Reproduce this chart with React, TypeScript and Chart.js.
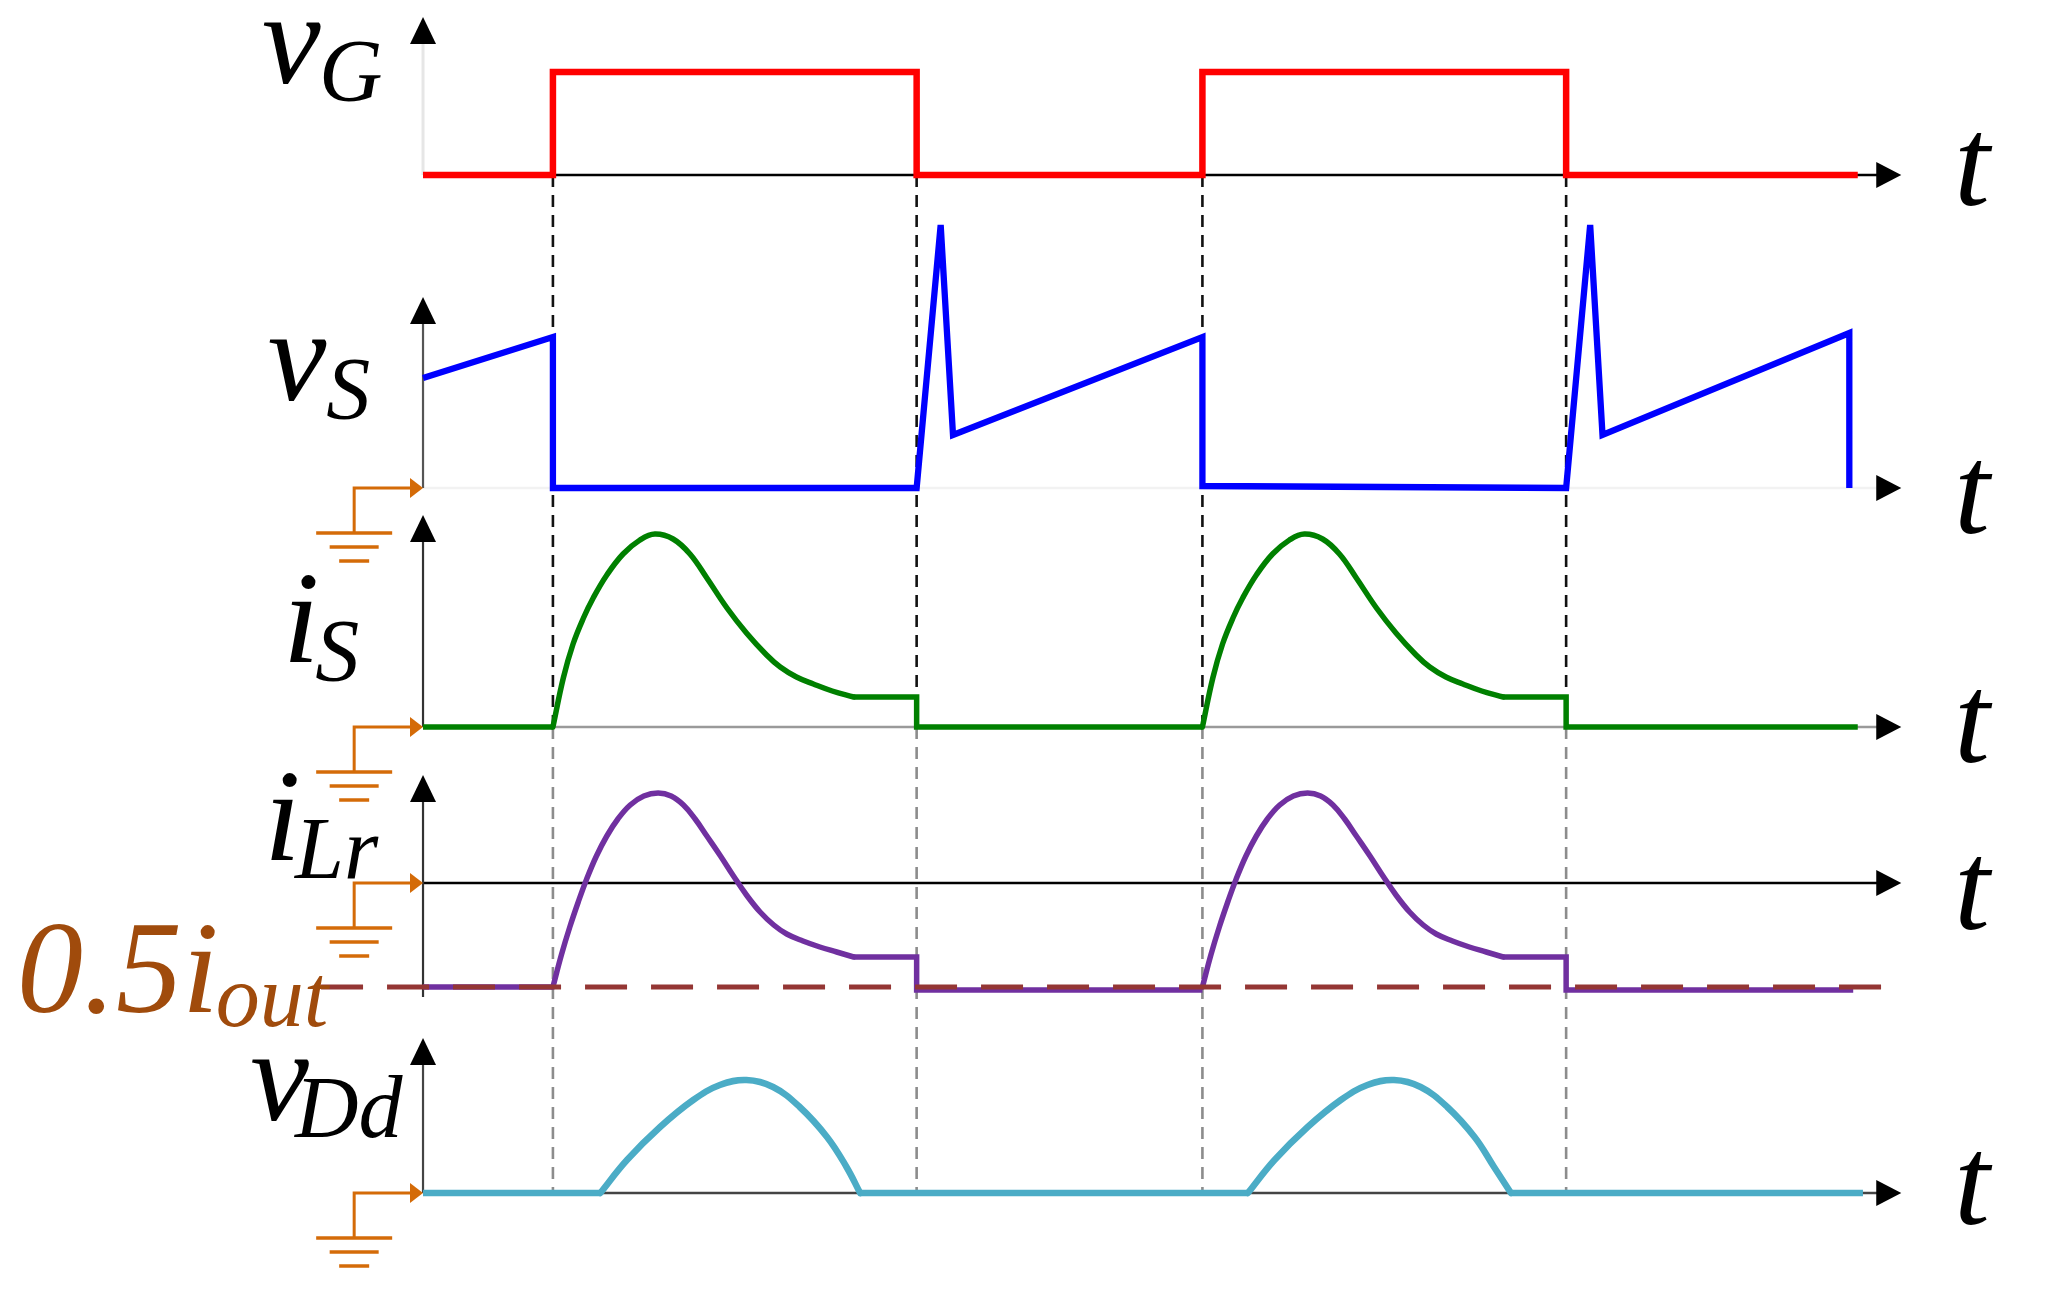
import React, { useEffect, useRef } from 'react';
import { Chart, registerables } from 'chart.js';

Chart.register(...registerables);

const W = 2053;
const H = 1303;

// ---- time base: one switching period = 10 units ----
const EDGES = [2.0, 7.6, 12.0, 17.6];
const T_MIN = -6.513;
const T_MAX = 25.096;
const Y_MIN = 0;
const Y_MAX = 130.3;
const T_ARROW = 22.76;
const T_LABEL = 23.85;
const GAIN = 10; // y-units per per-unit amplitude

// ---- waveforms (per-unit amplitudes) ----
const VG_T = [0, 2.0, 2.0, 7.6, 7.6, 12.0, 12.0, 17.6, 17.6, 22.09];
const VG_V = [0, 0, 1.03, 1.03, 0, 0, 1.03, 1.03, 0, 0];

const VS_T = [0, 2.0, 2.0, 7.6, 7.97, 8.16, 12.0, 12.0, 17.6, 17.97, 18.16, 21.96, 21.96];
const VS_V = [1.1, 1.51, 0, 0, 2.63, 0.53, 1.51, 0.02, 0, 2.63, 0.53, 1.55, 0];

const IS_BASE_T = [0, 2.0, 2.0, 6.63, 7.6, 7.6, 12.0, 12.0, 16.63, 17.6, 17.6, 22.09];
const IS_BASE_V = [0, 0, null, 0.3, 0.3, 0, 0, null, 0.3, 0.3, 0, 0];
const IS_PULSE_T = [
  2.0, 2.16, 2.31, 2.47, 2.62, 2.83, 3.08, 3.34, 3.57, 3.85, 4.11, 4.37, 4.68, 4.98, 5.29, 5.5, 5.75, 6.01, 6.3, 6.63,
  9.0,
  12.0, 12.16, 12.31, 12.47, 12.62, 12.83, 13.08, 13.34, 13.57, 13.85, 14.11, 14.37, 14.68, 14.98, 15.29, 15.5, 15.75, 16.01, 16.3, 16.63,
];
const IS_PULSE_V = [
  0, 0.49, 0.83, 1.09, 1.29, 1.52, 1.73, 1.87, 1.93, 1.88, 1.73, 1.49, 1.19, 0.94, 0.72, 0.6, 0.5, 0.43, 0.36, 0.3,
  null,
  0, 0.49, 0.83, 1.09, 1.29, 1.52, 1.73, 1.87, 1.93, 1.88, 1.73, 1.49, 1.19, 0.94, 0.72, 0.6, 0.5, 0.43, 0.36, 0.3,
];

const ILR_BASE_T = [0, 2.0, 2.0, 6.63, 7.6, 7.6, 12.0, 12.0, 16.63, 17.6, 17.6, 22.02];
const ILR_BASE_V = [-1.04, -1.04, null, -0.74, -0.74, -1.07, -1.07, null, -0.74, -0.74, -1.07, -1.07];
const ILR_PULSE_T = [
  2.0, 2.13, 2.26, 2.39, 2.52, 2.67, 2.83, 3.0, 3.19, 3.4, 3.62, 3.82, 4.01, 4.19, 4.37, 4.58, 4.78, 4.98, 5.19, 5.4, 5.6, 5.85, 6.11, 6.37, 6.63,
  9.0,
  12.0, 12.13, 12.26, 12.39, 12.52, 12.67, 12.83, 13.0, 13.19, 13.4, 13.62, 13.82, 14.01, 14.19, 14.37, 14.58, 14.78, 14.98, 15.19, 15.4, 15.6, 15.85, 16.11, 16.37, 16.63,
];
const ILR_PULSE_V = [
  -1.04, -0.72, -0.44, -0.19, 0.04, 0.27, 0.47, 0.64, 0.78, 0.87, 0.9, 0.87, 0.78, 0.64, 0.47, 0.27, 0.07, -0.12, -0.29, -0.42, -0.51, -0.58, -0.64, -0.69, -0.74,
  null,
  -1.04, -0.72, -0.44, -0.19, 0.04, 0.27, 0.47, 0.64, 0.78, 0.87, 0.9, 0.87, 0.78, 0.64, 0.47, 0.27, 0.07, -0.12, -0.29, -0.42, -0.51, -0.58, -0.64, -0.69, -0.74,
];
const IOUT_REF_T = [-1.57, 22.45];
const IOUT_REF_V = [-1.04, -1.04];

const VDD_BASE_T = [0, 2.73, 2.73, 6.73, 12.7, 12.7, 16.75, 22.17];
const VDD_BASE_V = [0, 0, null, 0, 0, null, 0, 0];
const VDD_PULSE_T = [
  2.73, 3.14, 3.65, 4.16, 4.57, 4.98, 5.39, 5.8, 6.22, 6.52, 6.73,
  9.0,
  12.7, 13.11, 13.62, 14.13, 14.54, 14.95, 15.36, 15.77, 16.19, 16.49, 16.75,
];
const VDD_PULSE_V = [
  0, 0.33, 0.66, 0.93, 1.08, 1.13, 1.06, 0.86, 0.56, 0.26, 0,
  null,
  0, 0.33, 0.66, 0.93, 1.08, 1.13, 1.06, 0.86, 0.56, 0.26, 0,
];

// ---- panel layout (y-units) ----
const BASE_VG = 112.8;
const BASE_VS = 81.5;
const BASE_IS = 57.6;
const BASE_ILR = 42.0;
const BASE_VDD = 11.0;

const PANELS = [
  { base: BASE_VG, axisTop: 128.6, axisBottom: BASE_VG, axisColor: '#e6e6e6', timeColor: '#000000', ground: false, tY: 109.8 },
  { base: BASE_VS, axisTop: 100.6, axisBottom: BASE_VS, axisColor: '#555555', timeColor: '#f2f2f2', ground: true, tY: 77.0 },
  { base: BASE_IS, axisTop: 78.8, axisBottom: BASE_IS, axisColor: '#333333', timeColor: '#9a9a9a', ground: true, tY: 54.1 },
  { base: BASE_ILR, axisTop: 52.8, axisBottom: 30.6, axisColor: '#333333', timeColor: '#000000', ground: true, tY: 37.4 },
  { base: BASE_VDD, axisTop: 26.5, axisBottom: BASE_VDD, axisColor: '#444444', timeColor: '#444444', ground: true, tY: 7.9 },
];

const LABELS = [
  { main: 'v', sub: 'G', x: -2.48, y: 122.0, sx: -1.6, sy: 120.3, color: '#000000' },
  { main: 'v', sub: 'S', x: -2.39, y: 90.3, sx: -1.49, sy: 88.5, color: '#000000' },
  { main: 'i', sub: 'S', x: -2.16, y: 64.1, sx: -1.66, sy: 62.3, color: '#000000' },
  { main: 'i', sub: 'Lr', x: -2.45, y: 44.3, sx: -1.97, sy: 42.5, color: '#000000' },
  { main: '0.5i', sub: 'out', x: -6.25, y: 29.1, sx: -3.19, sy: 27.7, color: '#A04B0C' },
  { main: 'v', sub: 'Dd', x: -2.66, y: 18.3, sx: -1.97, sy: 16.6, color: '#000000' },
];

const GROUND_T = -1.06;
const ORANGE = '#D46B08';

function pts(ts: number[], vs: (number | null)[], base: number) {
  return ts.map((t, i) => ({ x: t, y: vs[i] === null ? null : base + (vs[i] as number) * GAIN }));
}

const decor = {
  id: 'decor',
  beforeDatasetsDraw(chart: any) {
    const { ctx, scales } = chart;
    const X = (v: number) => scales.x.getPixelForValue(v);
    const Y = (v: number) => scales.y.getPixelForValue(v);
    ctx.save();

    // dashed switching-edge guides
    ctx.lineWidth = 2.6;
    ctx.setLineDash([12, 8]);
    EDGES.forEach((t) => {
      ctx.strokeStyle = '#111111';
      ctx.beginPath();
      ctx.moveTo(X(t), Y(BASE_VG));
      ctx.lineTo(X(t), Y(BASE_IS));
      ctx.stroke();
      ctx.strokeStyle = '#8c8c8c';
      ctx.beginPath();
      ctx.moveTo(X(t), Y(BASE_IS));
      ctx.lineTo(X(t), Y(BASE_VDD));
      ctx.stroke();
    });
    ctx.setLineDash([]);

    const x0 = X(0);
    const tip = X(T_ARROW);
    PANELS.forEach((p) => {
      const yb = Y(p.base);
      // time axis
      ctx.strokeStyle = p.timeColor;
      ctx.lineWidth = 2.5;
      ctx.beginPath();
      ctx.moveTo(x0, yb);
      ctx.lineTo(tip - 24, yb);
      ctx.stroke();
      ctx.fillStyle = '#000000';
      ctx.beginPath();
      ctx.moveTo(tip, yb);
      ctx.lineTo(tip - 25, yb - 13);
      ctx.lineTo(tip - 25, yb + 13);
      ctx.closePath();
      ctx.fill();

      // vertical axis
      const yt = Y(p.axisTop);
      ctx.strokeStyle = p.axisColor;
      ctx.lineWidth = p.ground ? 2.2 : 3;
      ctx.beginPath();
      ctx.moveTo(x0, Y(p.axisBottom));
      ctx.lineTo(x0, yt + 26);
      ctx.stroke();
      ctx.fillStyle = '#000000';
      ctx.beginPath();
      ctx.moveTo(x0, yt);
      ctx.lineTo(x0 - 13, yt + 27);
      ctx.lineTo(x0 + 13, yt + 27);
      ctx.closePath();
      ctx.fill();

      // ground reference symbol
      if (p.ground) {
        const gx = X(GROUND_T);
        ctx.strokeStyle = ORANGE;
        ctx.fillStyle = ORANGE;
        ctx.lineWidth = 3;
        ctx.beginPath();
        ctx.moveTo(gx, yb + 45);
        ctx.lineTo(gx, yb);
        ctx.lineTo(x0 - 12, yb);
        ctx.stroke();
        ctx.beginPath();
        ctx.moveTo(x0, yb);
        ctx.lineTo(x0 - 13, yb - 10);
        ctx.lineTo(x0 - 13, yb + 10);
        ctx.closePath();
        ctx.fill();
        ctx.lineWidth = 3.5;
        [[76, 0], [49, 14], [30, 28]].forEach(([w, dy]) => {
          ctx.beginPath();
          ctx.moveTo(gx - w / 2, yb + 45 + dy);
          ctx.lineTo(gx + w / 2, yb + 45 + dy);
          ctx.stroke();
        });
      }
    });
    ctx.restore();
  },
  afterDatasetsDraw(chart: any) {
    const { ctx, scales } = chart;
    const X = (v: number) => scales.x.getPixelForValue(v);
    const Y = (v: number) => scales.y.getPixelForValue(v);
    ctx.save();
    ctx.textBaseline = 'alphabetic';
    ctx.textAlign = 'left';
    LABELS.forEach((l) => {
      ctx.fillStyle = l.color;
      ctx.font = 'italic 132px "Liberation Serif", "Times New Roman", serif';
      ctx.fillText(l.main, X(l.x), Y(l.y));
      ctx.font = 'italic 88px "Liberation Serif", "Times New Roman", serif';
      ctx.fillText(l.sub, X(l.sx), Y(l.sy));
    });
    ctx.fillStyle = '#000000';
    ctx.textAlign = 'center';
    ctx.font = 'italic 128px "Liberation Serif", "Times New Roman", serif';
    PANELS.forEach((p) => {
      ctx.fillText('t', X(T_LABEL), Y(p.tY));
    });
    ctx.restore();
  },
};

export default function App() {
  const ref = useRef<HTMLCanvasElement | null>(null);

  useEffect(() => {
    document.body.style.margin = '0';
    document.body.style.overflow = 'hidden';
    const canvas = ref.current;
    if (!canvas) return;

    const line = (data: any[], color: string, width: number, order: number, extra: any = {}) => ({
      data,
      borderColor: color,
      borderWidth: width,
      pointRadius: 0,
      fill: false,
      tension: 0,
      spanGaps: false,
      order,
      ...extra,
    });
    const curve = { tension: 0.4, borderCapStyle: 'round', borderJoinStyle: 'round' };

    const chart = new Chart(canvas, {
      type: 'line',
      data: {
        datasets: [
          line(pts(IOUT_REF_T, IOUT_REF_V, BASE_ILR), '#943634', 5, 0, { borderDash: [42, 24] }),
          line(pts(VG_T, VG_V, BASE_VG), '#FF0000', 6.5, 1),
          line(pts(VS_T, VS_V, BASE_VS), '#0000FF', 6.3, 2),
          line(pts(IS_BASE_T, IS_BASE_V, BASE_IS), '#008000', 5.5, 3),
          line(pts(IS_PULSE_T, IS_PULSE_V, BASE_IS), '#008000', 5.5, 3, curve),
          line(pts(ILR_BASE_T, ILR_BASE_V, BASE_ILR), '#7030A0', 5.5, 4),
          line(pts(ILR_PULSE_T, ILR_PULSE_V, BASE_ILR), '#7030A0', 5.5, 4, curve),
          line(pts(VDD_BASE_T, VDD_BASE_V, BASE_VDD), '#4BACC6', 6.5, 5),
          line(pts(VDD_PULSE_T, VDD_PULSE_V, BASE_VDD), '#4BACC6', 6.5, 5, curve),
        ] as any,
      },
      options: {
        responsive: false,
        devicePixelRatio: 1,
        animation: false,
        events: [],
        layout: { padding: 0 },
        plugins: { legend: { display: false }, tooltip: { enabled: false } },
        scales: {
          x: { type: 'linear', min: T_MIN, max: T_MAX, display: false },
          y: { type: 'linear', min: Y_MIN, max: Y_MAX, display: false },
        },
      },
      plugins: [decor],
    } as any);

    return () => chart.destroy();
  }, []);

  return (
    <div style={{ width: W, height: H, background: '#ffffff' }}>
      <canvas ref={ref} width={W} height={H} style={{ display: 'block' }} />
    </div>
  );
}
